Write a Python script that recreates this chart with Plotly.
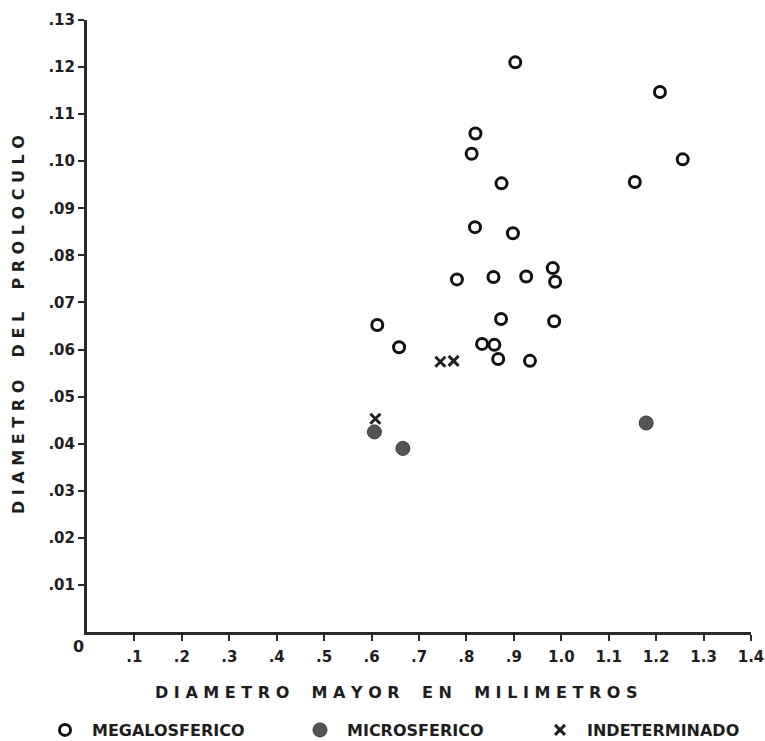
import plotly.graph_objects as go

# ---- data ----
mega_x = [0.903, 0.819, 0.811, 0.874, 1.155, 0.818, 0.898, 0.982, 0.780, 0.857, 0.926,
          0.987, 0.612, 0.873, 0.985, 0.658, 0.833, 0.859, 0.867, 0.934, 1.208, 1.256]
mega_y = [0.1210, 0.1059, 0.1016, 0.0953, 0.0956, 0.0860, 0.0847, 0.0773, 0.0749, 0.0754, 0.0755,
          0.0744, 0.0652, 0.0665, 0.0660, 0.0605, 0.0612, 0.0610, 0.0580, 0.0576, 0.1147, 0.1004]
micro_x = [0.606, 0.666, 1.179]
micro_y = [0.0425, 0.0390, 0.0444]
indet_x = [0.608, 0.745, 0.773]
indet_y = [0.0453, 0.0574, 0.0576]

x_tickvals = [0.1, 0.2, 0.3, 0.4, 0.5, 0.6, 0.7, 0.8, 0.9, 1.0, 1.1, 1.2, 1.3, 1.4]
x_ticktext = [".1", ".2", ".3", ".4", ".5", ".6", ".7", ".8", ".9", "1.0", "1.1", "1.2", "1.3", "1.4"]
y_tickvals = [0.01, 0.02, 0.03, 0.04, 0.05, 0.06, 0.07, 0.08, 0.09, 0.10, 0.11, 0.12, 0.13]
y_ticktext = [".01", ".02", ".03", ".04", ".05", ".06", ".07", ".08", ".09", ".10", ".11", ".12", ".13"]

names = ["MEGALOSFERICO", "MICROSFERICO", "INDETERMINADO"]
x_title = "DIAMETRO MAYOR EN MILIMETROS"
y_title = "DIAMETRO DEL PROLOCULO"

FONT = "DejaVu Sans, Liberation Sans, sans-serif"
INK = "#1e1e1e"

W, H = 765, 741
L, R, T, B = 87, 14, 20, 109
PW, PH = W - L - R, H - T - B


def px_x(p):
    return (p - L) / PW


def px_y(p):
    return (H - B - p) / PH


def spaced(s):
    words = s.split(" ")
    return "\u00a0\u00a0\u00a0\u00a0".join(" ".join(list(w)) for w in words)


fig = go.Figure()
fig.add_trace(go.Scatter(
    x=mega_x, y=mega_y, mode="markers", name=names[0], legend="legend", showlegend=True,
    marker=dict(symbol="circle-open", size=11, color="#111111", line=dict(width=3, color="#111111")),
))
fig.add_trace(go.Scatter(
    x=micro_x, y=micro_y, mode="markers", name=names[1], legend="legend2", showlegend=True,
    marker=dict(symbol="circle", size=14, color="#555555", line=dict(width=1, color="#3a3a3a")),
))
fig.add_trace(go.Scatter(
    x=indet_x, y=indet_y, mode="markers", name=names[2], legend="legend3", showlegend=True,
    marker=dict(symbol="x-thin-open", size=10, color="#222222", line=dict(width=3, color="#222222")),
))

axis_common = dict(
    showline=True, linewidth=3, linecolor="#2a2a2a", mirror=False,
    showgrid=False, zeroline=False, automargin=False,
    ticks="outside", ticklen=6, tickwidth=2, tickcolor="#2a2a2a",
    tickfont=dict(family=FONT, size=15, color=INK, weight="bold"),
    ticklabeloverflow="allow",
)

fig.update_xaxes(range=[0, 1.4], tickmode="array", tickvals=x_tickvals, ticktext=x_ticktext,
                 ticklabelstandoff=3, **axis_common)
fig.update_yaxes(range=[0, 0.13], tickmode="array", tickvals=y_tickvals, ticktext=y_ticktext,
                 **axis_common)

leg_font = dict(family=FONT, size=16, color=INK, weight="bold")
leg_common = dict(xref="container", yref="container", yanchor="middle", xanchor="left",
                  orientation="h", y=1 - 730 / H, itemwidth=44,
                  font=leg_font, bgcolor="rgba(0,0,0,0)", borderwidth=0)

fig.update_layout(
    width=W, height=H, showlegend=True,
    margin=dict(l=L, r=R, t=T, b=B, autoexpand=False),
    plot_bgcolor="white", paper_bgcolor="white",
    legend=dict(x=38 / W, **leg_common),
    legend2=dict(x=293 / W, **leg_common),
    legend3=dict(x=533 / W, **leg_common),
    annotations=[
        dict(text=spaced(x_title), xref="paper", yref="paper", x=px_x(396), y=px_y(692),
             xanchor="center", yanchor="middle", showarrow=False,
             font=dict(family=FONT, size=16, color=INK, weight="bold")),
        dict(text=spaced(y_title), xref="paper", yref="paper", x=px_x(18), y=px_y(325),
             xanchor="center", yanchor="middle", showarrow=False, textangle=-90,
             font=dict(family=FONT, size=16, color=INK, weight="bold")),
        dict(text="0", xref="paper", yref="paper", x=px_x(78), y=px_y(646),
             xanchor="center", yanchor="middle", showarrow=False,
             font=dict(family=FONT, size=16, color=INK, weight="bold")),
    ],
)

fig.write_html("out.html", config={"displayModeBar": False},
               post_script="document.body.style.margin='0';")
